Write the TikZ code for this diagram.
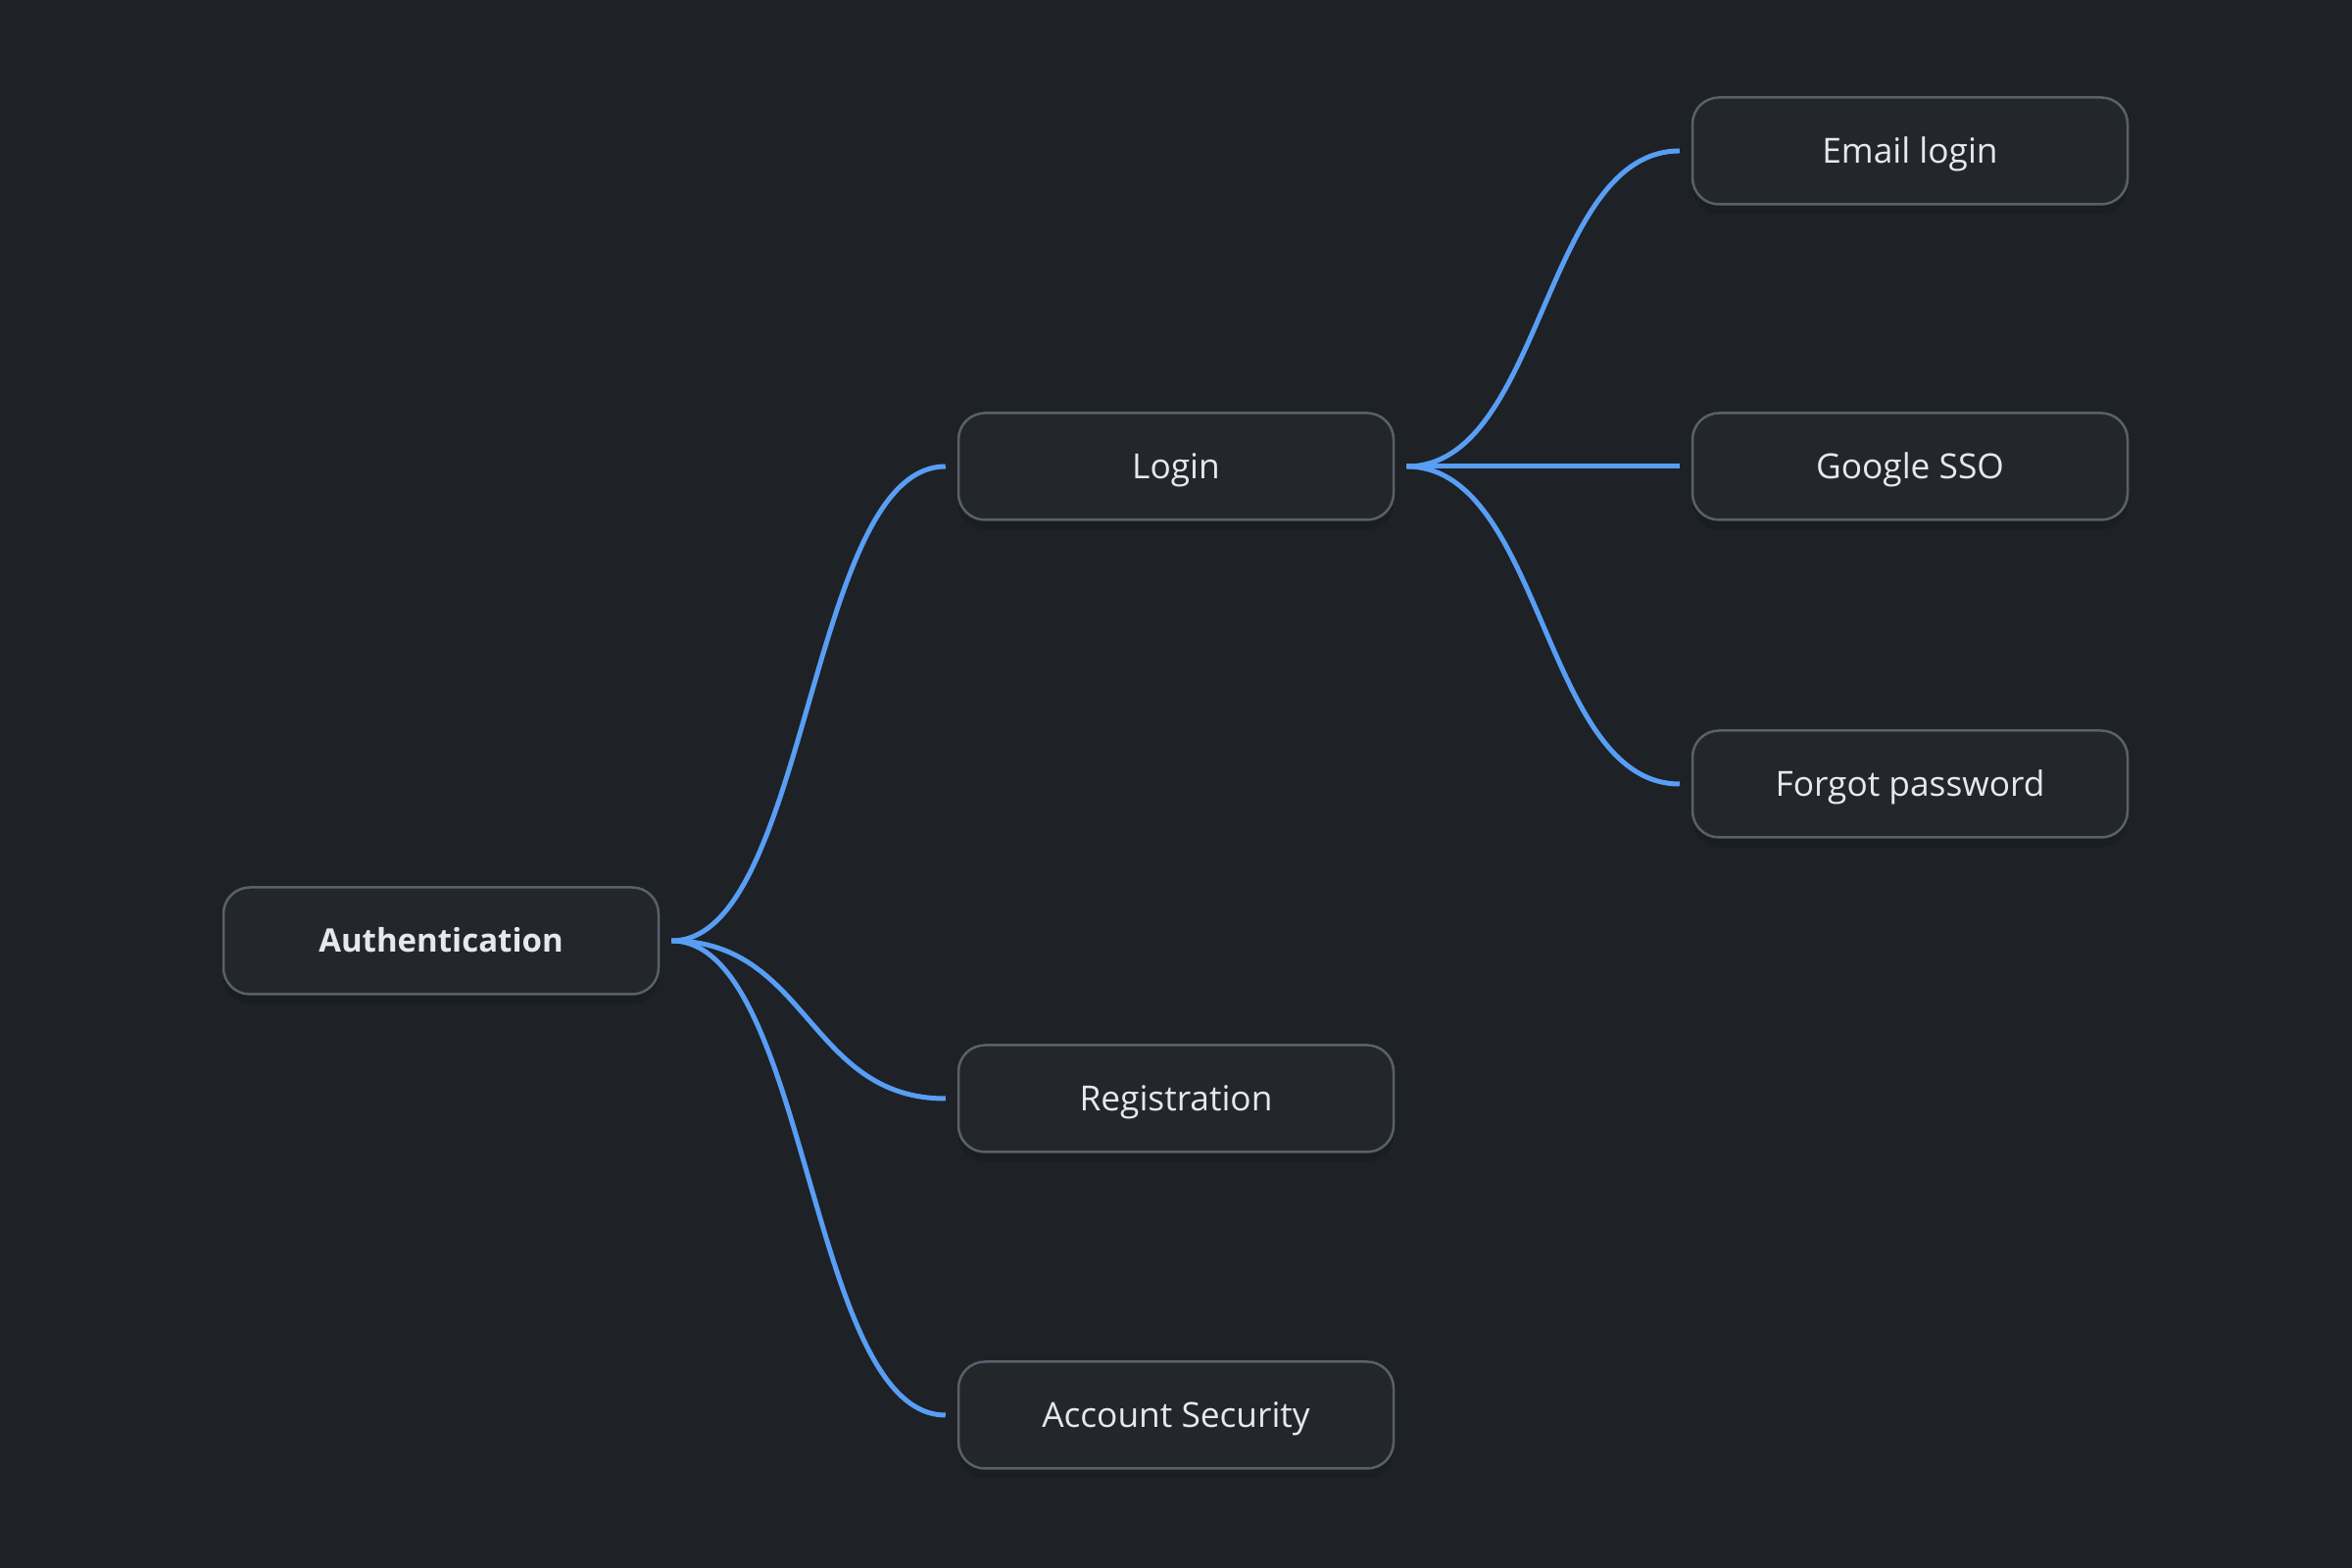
\documentclass[tikz,border=0pt]{standalone}
\usepackage{fontspec}
\setmainfont{Open Sans}
\usetikzlibrary{calc}
\definecolor{bg}{RGB}{30,33,38}
\definecolor{boxfill}{RGB}{35,39,44}
\definecolor{boxborder}{RGB}{88,97,107}
\definecolor{linkblue}{RGB}{88,158,245}
\definecolor{txt}{RGB}{230,232,235}
\newcommand\mmlink[2]{%
  \coordinate (ls) at ([xshift=12pt]#1.east);
  \coordinate (le) at ([xshift=-12pt]#2.west);
  \coordinate (lm) at ($(ls)!0.5!(le)$);
  \draw[link] (ls) .. controls (lm |- ls) and (lm |- le) .. (le);}
\begin{document}
\begin{tikzpicture}[x=1pt,y=1pt,
  box/.style={draw=boxborder, line width=2.5pt, fill=boxfill, rounded corners=27pt,
    minimum width=444pt, minimum height=109pt, inner sep=0pt, text=txt,
    text height=25pt, text depth=0pt,
    font=\fontsize{35.3}{40}\selectfont,
    preaction={fill=black, opacity=0.10, transform canvas={yshift=-10pt}}},
  rootbox/.style={box, font=\fontsize{33}{40}\selectfont\bfseries, text height=23.5pt},
  link/.style={draw=linkblue, line width=5pt}]
\fill[bg] (0,0) rectangle (2400,1600);
\useasboundingbox (0,0) rectangle (2400,1600);
\node[rootbox] (auth) at (450,640) {Authentication};
\node[box] (login) at (1200,1124) {Login};
\node[box] (reg) at (1200,479) {Registration};
\node[box] (acc) at (1200,156) {Account Security};
\node[box] (email) at (1949,1446) {Email login};
\node[box] (google) at (1949,1124) {Google SSO};
\node[box] (forgot) at (1949,800) {Forgot password};
\mmlink{auth}{login}
\mmlink{auth}{reg}
\mmlink{auth}{acc}
\mmlink{login}{email}
\mmlink{login}{google}
\mmlink{login}{forgot}
\end{tikzpicture}
\end{document}
